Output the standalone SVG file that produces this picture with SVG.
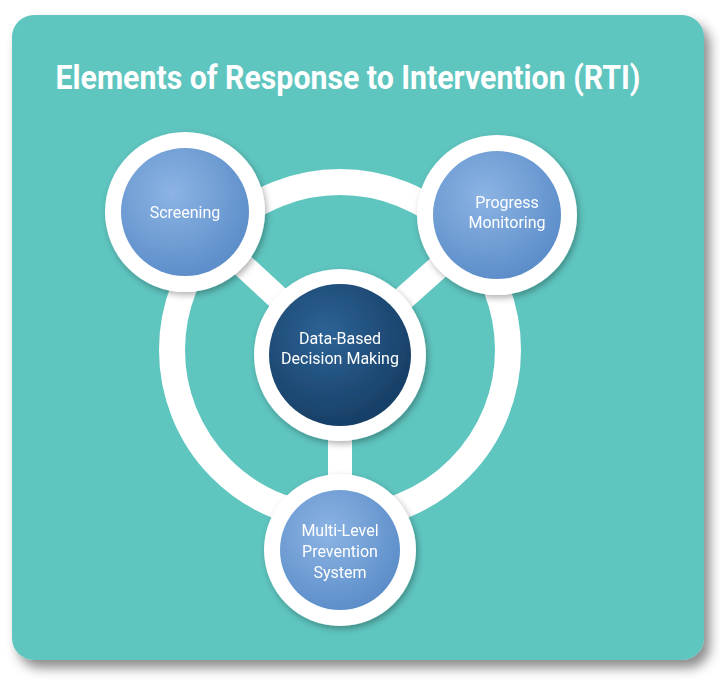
<svg xmlns="http://www.w3.org/2000/svg" width="720" height="700" viewBox="0 0 720 700">
<defs>
<radialGradient id="bl" cx="0.4" cy="0.35" r="0.7"><stop offset="0" stop-color="#8cb4e4"/><stop offset="1" stop-color="#5a8cc8"/></radialGradient>
<radialGradient id="dk" cx="0.4" cy="0.35" r="0.7"><stop offset="0" stop-color="#2d6396"/><stop offset="1" stop-color="#163d63"/></radialGradient>
<filter id="sh" x="-10%" y="-10%" width="130%" height="130%"><feDropShadow dx="6" dy="8" stdDeviation="6" flood-color="#000" flood-opacity="0.45"/></filter>
<filter id="cs" x="-20%" y="-20%" width="140%" height="140%"><feDropShadow dx="2" dy="3" stdDeviation="3" flood-color="#000" flood-opacity="0.3"/></filter>
</defs>
<style>
.t{font-family:Roboto,"Liberation Sans",Arial,sans-serif;fill:#fff;text-anchor:middle;font-size:16px}
.o{fill:#fff}
</style>
<rect x="0" y="0" width="720" height="700" fill="#fff"/>
<rect x="12" y="15" width="692" height="645" rx="22" fill="#5fc5bf" filter="url(#sh)"/>
<text x="348" y="89" font-family="Roboto,'Liberation Sans',sans-serif" font-weight="bold" font-size="34" fill="#fff" text-anchor="middle" transform="translate(348 0) scale(0.89 1) translate(-348 0)">Elements of Response to Intervention (RTI)</text>
<g id="connectors" stroke="#fff" fill="none">
<circle cx="340" cy="350" r="168" stroke-width="26"/>
<line x1="340" y1="355" x2="185" y2="212" stroke-width="24"/>
<line x1="340" y1="355" x2="497" y2="215" stroke-width="24"/>
<line x1="340" y1="355" x2="340" y2="550" stroke-width="24"/>
</g>
<g id="screening" filter="url(#cs)"><circle cx="185" cy="212" r="80" class="o"/><circle cx="185" cy="212" r="64" fill="url(#bl)"/><text class="t" x="185" y="218">Screening</text></g>
<g id="progress" filter="url(#cs)"><circle cx="497" cy="215" r="80" class="o"/><circle cx="497" cy="215" r="64" fill="url(#bl)"/><text class="t" x="507" y="208">Progress</text><text class="t" x="507" y="228">Monitoring</text></g>
<g id="center" filter="url(#cs)"><circle cx="340" cy="355" r="86" class="o"/><circle cx="340" cy="355" r="71" fill="url(#dk)"/><text class="t" x="340" y="344">Data-Based</text><text class="t" x="340" y="364">Decision Making</text></g>
<g id="multi" filter="url(#cs)"><circle cx="340" cy="550" r="76" class="o"/><circle cx="340" cy="550" r="60" fill="url(#bl)"/><text class="t" x="340" y="536">Multi-Level</text><text class="t" x="340" y="557">Prevention</text><text class="t" x="340" y="578">System</text></g>
</svg>
